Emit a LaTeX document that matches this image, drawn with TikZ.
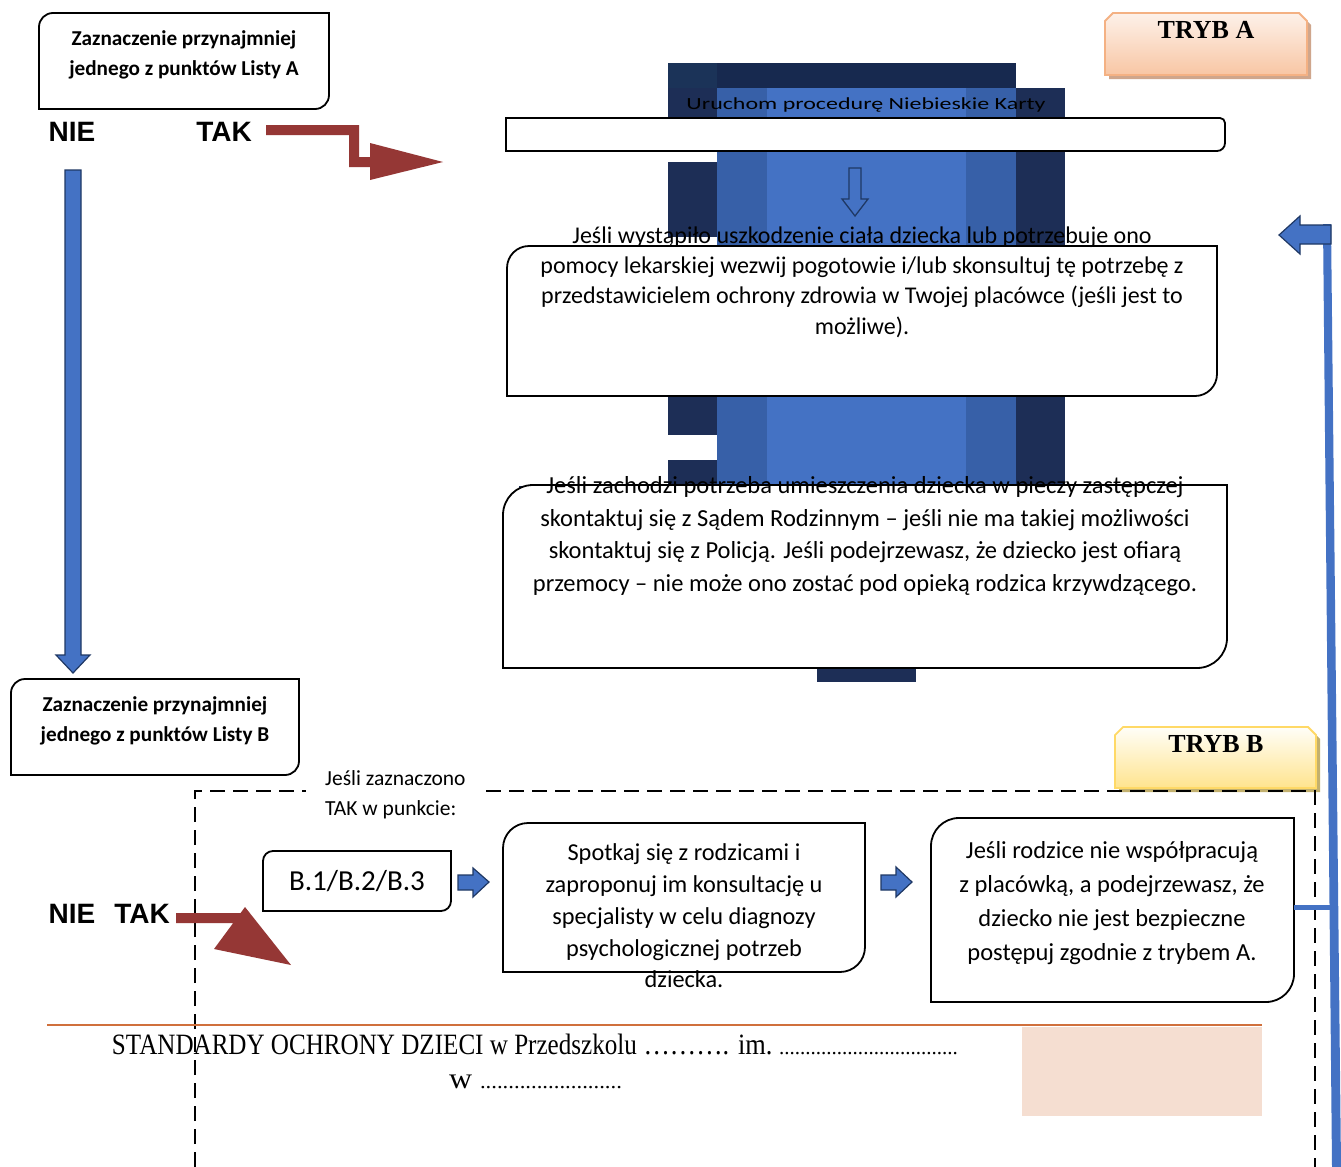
\documentclass[tikz,border=0pt]{standalone}
\usepackage{fontspec}
\setmainfont{Carlito}
\newfontfamily\arialf{Liberation Sans}
\newfontfamily\timesf{Liberation Serif}
\usetikzlibrary{fit}
\definecolor{bright}{HTML}{4472C4}
\definecolor{midb}{HTML}{3760A8}
\definecolor{darkb}{HTML}{1D2E56}
\definecolor{topb}{HTML}{17294F}
\definecolor{cornb}{HTML}{1B3358}
\definecolor{arrowedge}{HTML}{1F3864}
\definecolor{redar}{HTML}{953735}
\definecolor{orangeline}{HTML}{D0703C}
\definecolor{peach}{HTML}{F5DED1}
\definecolor{peachA}{HTML}{F8C6A4}
\definecolor{peachAtop}{HTML}{FDF1E9}
\definecolor{peachAline}{HTML}{F4B183}
\definecolor{shadowA}{HTML}{CFA68C}
\definecolor{yelB}{HTML}{FFE48E}
\definecolor{yelBtop}{HTML}{FFFEF8}
\definecolor{yelBline}{HTML}{FFD966}
\definecolor{shadowB}{HTML}{C2B06E}
\tikzset{
  frame/.style={draw=black, line width=1.8pt, fill=white},
  boxn/.style={inner sep=0pt, outer sep=0pt},
  txt/.style={inner sep=0pt, align=center, text=black},
  boldtxt/.style={txt, font=\bfseries\fontsize{21.2}{29.5}\selectfont},
  yesno/.style={inner sep=0pt, font=\arialf\bfseries\fontsize{28}{28}\selectfont},
  tryb/.style={inner sep=0pt, font=\timesf\bfseries\fontsize{26}{26}\selectfont},
  bluearrow/.style={fill=bright, draw=arrowedge, line width=1.2pt, line join=miter},
  redarrow/.style={fill=redar},
  dashline/.style={draw=black, line width=1.4pt, dash pattern=on 15pt off 8pt}
}
\newcommand\diagframe[2]{%
  \draw[frame] (#1.south west) -- ([yshift=-#2]#1.north west)
    arc[start angle=180, end angle=90, radius=#2] -- (#1.north east)
    -- ([yshift=#2]#1.south east)
    arc[start angle=0, end angle=-90, radius=#2] -- cycle;}
\begin{document}
\begin{tikzpicture}[x=1pt,y=-1pt]
\useasboundingbox (0,0) rectangle (1341,1167);
\fill[white] (0,0) rectangle (1341,1167);

% ---- decorative blue blocks (background) ----
\fill[topb] (668,63) rectangle (1016,88);
\fill[cornb] (668,63) rectangle (717,88);
\fill[darkb] (668,88) rectangle (717,151);
\fill[darkb] (668,162) rectangle (717,237);
\fill[darkb] (668,396) rectangle (717,435);
\fill[darkb] (668,460) rectangle (717,485);
\fill[midb] (717,88) rectangle (767,485);
\fill[bright] (767,88) rectangle (966,485);
\fill[midb] (966,88) rectangle (1016,485);
\fill[darkb] (1016,88) rectangle (1065,485);
\fill[darkb] (817,668) rectangle (916,682);
\fill[darkb] (519,485.5) rectangle (528,489);

% ---- Uruchom bar ----
\node[boxn, fit={(506,118) (1225,151)}] (bar) {};
\draw[frame] (bar.south west) -- (bar.north west) -- ([xshift=-5pt]bar.north east)
  arc[start angle=90, end angle=0, radius=5pt] -- ([yshift=8pt]bar.south east)
  arc[start angle=0, end angle=-90, radius=8pt] -- cycle;
\node[txt] (uru) at (866,105) {\resizebox{359pt}{\height}{\fontsize{17}{17}\selectfont Uruchom procedurę Niebieskie Karty}};

% hollow down arrow
\draw[arrowedge, line width=1.3pt, line join=miter] (849,168) -- (861,168) -- (861,199) -- (868,199) -- (855,216) -- (842,199) -- (849,199) -- cycle;

% ---- box 1 ----
\node[boxn, fit={(507,246) (1217,396)}] (b1) {};
\diagframe{b1}{22pt}
\node[txt, font=\fontsize{24}{30.3}\selectfont] (t1) at (862,282) {Jeśli wystąpiło uszkodzenie ciała dziecka lub potrzebuje ono\\pomocy lekarskiej wezwij pogotowie i/lub skonsultuj tę potrzebę z\\przedstawicielem ochrony zdrowia w Twojej placówce (jeśli jest to\\możliwe).};

% ---- box 2 ----
\node[boxn, fit={(503,485) (1227,668)}] (b2) {};
\diagframe{b2}{30pt}
\node[txt, font=\fontsize{24.5}{32.7}\selectfont] (t2) at (865,536) {Jeśli zachodzi potrzeba umieszczenia dziecka w pieczy zastępczej\\skontaktuj się z Sądem Rodzinnym – jeśli nie ma takiej możliwości\\skontaktuj się z Policją. Jeśli podejrzewasz, że dziecko jest ofiarą\\przemocy – nie może ono zostać pod opieką rodzica krzywdzącego.};

% ---- TRYB A ----
\fill[shadowA] (1109,79) -- (1109,21) -- (1117,17) -- (1303,17) -- (1311,25) -- (1311,79) -- cycle;
\draw[peachAline, line width=1.8pt, top color=peachAtop, bottom color=peachA] (1105,75) -- (1105,21) -- (1113,13) -- (1299,13) -- (1307,21) -- (1307,75) -- cycle;
\node[tryb] (trybA) at (1206,30) {TRYB A};

% ---- box A (top left) ----
\node[boxn, fit={(39,13) (329,109)}] (la) {};
\diagframe{la}{14pt}
\node[boldtxt] (lat) at (184,55) {Zaznaczenie przynajmniej\\jednego z punktów Listy A};
\node[yesno] (nie1) at (72,132) {NIE};
\node[yesno] (tak1) at (224,132) {TAK};

% red arrow 1
\fill[redarrow] (266,125) -- (359,125) -- (359,157) -- (370,157) -- (370,143) -- (443,162) -- (370,180) -- (370,167) -- (349,167) -- (349,135) -- (266,135) -- cycle;

% blue down arrow
\draw[bluearrow] (65,170) -- (81,170) -- (81,655) -- (90,655) -- (73,673) -- (56,655) -- (65,655) -- cycle;

% ---- box B ----
\node[boxn, fit={(11,679) (299,775)}] (lb) {};
\diagframe{lb}{14pt}
\node[boldtxt] (lbt) at (155,721) {Zaznaczenie przynajmniej\\jednego z punktów Listy B};

% ---- TRYB B ----
\fill[shadowB] (1119,792) -- (1119,735) -- (1127,731) -- (1312,731) -- (1320,739) -- (1320,792) -- cycle;
\draw[yelBline, line width=1.8pt, top color=yelBtop, bottom color=yelB] (1115,788) -- (1115,735) -- (1123,727) -- (1308,727) -- (1316,735) -- (1316,788) -- cycle;
\node[tryb] (trybB) at (1216,744) {TRYB B};

% dashed frame
\draw[dashline] (195,1167) -- (195,791) -- (1315,791) -- (1315,1167);
\node[txt, align=left, anchor=west, fill=white, inner xsep=19pt, inner ysep=2pt, font=\fontsize{21.5}{30}\selectfont] (jz) at (306,795) {Jeśli zaznaczono\\TAK w punkcie:};

% B.1 box
\node[boxn, fit={(263,851) (451,911)}] (bb) {};
\diagframe{bb}{10pt}
\node[txt, font=\fontsize{29}{29}\selectfont] (bbt) at (357,881) {B.1/B.2/B.3};

% small blue arrows
\draw[bluearrow] (458,875) -- (473,875) -- (473,868) -- (489,882) -- (473,897) -- (473,890) -- (458,890) -- cycle;
\draw[bluearrow] (881,875) -- (896,875) -- (896,867) -- (912,882) -- (896,897) -- (896,890) -- (881,890) -- cycle;

% Spotkaj box
\node[boxn, fit={(503,823) (865,972)}] (bs) {};
\diagframe{bs}{25pt}
\node[txt, font=\fontsize{24.3}{31.75}\selectfont] (bst) at (684,916) {Spotkaj się z rodzicami i\\zaproponuj im konsultację u\\specjalisty w celu diagnozy\\psychologicznej potrzeb\\dziecka.};

% Rodzice box
\node[boxn, fit={(931,818) (1294,1002)}] (rodz) {};
\diagframe{rodz}{28pt}
\node[txt, font=\fontsize{24.5}{34}\selectfont] (rodzt) at (1112,903) {Jeśli rodzice nie współpracują\\z placówką, a podejrzewasz, że\\dziecko nie jest bezpieczne\\postępuj zgodnie z trybem A.};

% bottom NIE TAK
\node[yesno] (nie2) at (72,914) {NIE};
\node[yesno] (tak2) at (142,914) {TAK};
\fill[redarrow] (176,913) -- (240.6,913) -- (245,907) -- (291,965) -- (214,949) -- (233.2,923) -- (176,923) -- cycle;

% right blue line and connectors
\fill[bright] (1323,224) -- (1331,224) -- (1341,1167) -- (1332,1167) -- cycle;
\coordinate (vl) at (1332,907);
\draw[bright, line width=5pt] (rodz.east |- 0,907) -- (vl);
\draw[bluearrow] (1279,235) -- (1300,216) -- (1300,225) -- (1331,225) -- (1331,244) -- (1300,244) -- (1300,254) -- cycle;

% footer
\fill[peach] (1022,1027) rectangle (1262,1116);
\draw[orangeline, line width=2pt] (47,1025) -- (1262,1025);
\node[txt, anchor=base] (foot1) at (535,1054) {\timesf\fontsize{29.5}{29.5}\selectfont
  \resizebox{525pt}{\height}{STANDARDY OCHRONY DZIECI w Przedszkolu}%
  \resizebox{142pt}{\height}{~………. im.~}%
  \resizebox{179pt}{\height}{\fontsize{21}{21}\selectfont ..................................}};
\node[txt, anchor=base] (foot2) at (535.5,1088) {\resizebox{173pt}{\height}{\timesf\fontsize{29.5}{29.5}\selectfont w {\fontsize{21}{21}\selectfont .........................}}};
\end{tikzpicture}
\end{document}
